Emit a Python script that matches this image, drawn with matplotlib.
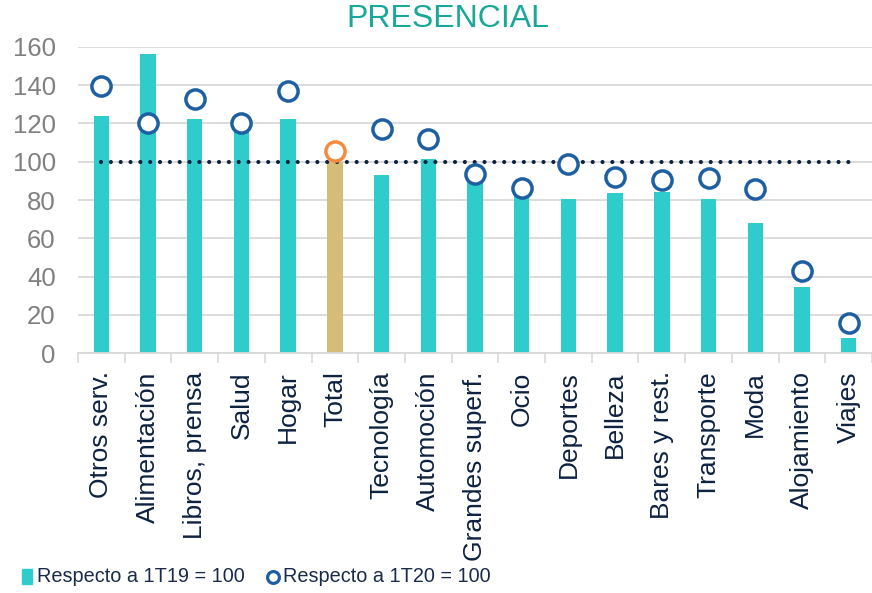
import matplotlib
matplotlib.use("Agg")
import matplotlib.pyplot as plt
from matplotlib.lines import Line2D
from matplotlib.patches import Rectangle
import numpy as np

plt.rcParams['font.family'] = ['Liberation Sans', 'DejaVu Sans']

categories = ["Otros serv.", "Alimentación", "Libros, prensa", "Salud", "Hogar", "Total",
              "Tecnología", "Automoción", "Grandes superf.", "Ocio", "Deportes", "Belleza",
              "Bares y rest.", "Transporte", "Moda", "Alojamiento", "Viajes"]
vs_1t19 = [123.8, 156.2, 122.1, 122.1, 122.1, 100.0, 92.9, 101.2, 94.4, 85.2, 80.3, 83.5,
           84.3, 80.3, 67.8, 34.6, 7.8]
vs_1t20 = [139.7, 120.3, 132.9, 120.3, 137.0, 105.4, 117.0, 112.0, 93.7, 86.3, 98.8, 92.2,
           90.4, 91.3, 85.6, 43.1, 15.7]
reference_level = 100
highlight = "Total"
yticks = [0, 20, 40, 60, 80, 100, 120, 140, 160]
title = "PRESENCIAL"
legend_labels = ["Respecto a 1T19 = 100", "Respecto a 1T20 = 100"]

teal = "#2ecdcc"
tan = "#d6bd77"
blue = "#1d5fa2"
orange = "#f58b3c"
navy = "#0d2240"
grid_c = "#d9d9d9"

W, H = 872, 593
fig = plt.figure(figsize=(W/100, H/100), dpi=100)
ax = fig.add_axes([78/W, 1-353.3/H, (872-78)/W, (353.3-46.7)/H])

x = np.arange(len(categories))
bar_colors = [tan if c == highlight else teal for c in categories]
ax.bar(x, vs_1t19, width=0.33, color=bar_colors, zorder=2)

ax.plot([x[0], x[-1]], [reference_level, reference_level], color=navy, lw=3,
        linestyle=(0, (0.01, 2.35)), dash_capstyle='round', zorder=3)

for xi, v, c in zip(x, vs_1t20, categories):
    ax.plot(xi, v, marker='o', ms=13.8, mfc='white', mec=(orange if c == highlight else blue),
            mew=2.5, linestyle='none', zorder=4)

ax.set_xlim(-0.5, len(categories) - 0.5)
ax.set_ylim(0, 160)
ax.set_yticks(yticks)
ax.tick_params(axis='y', length=0, pad=16, labelsize=18.5, labelcolor="#808080")
ax.set_xticks(x)
ax.set_xticklabels(categories, rotation=90, va='top', ha='center')
ax.tick_params(axis='x', which='major', length=0, pad=13, labelsize=19, labelcolor=navy)
ax.set_xticks(np.arange(-0.5, len(categories), 1.0), minor=True)
ax.tick_params(axis='x', which='minor', length=7, width=1.2, color=grid_c)

ax.grid(axis='y', color=grid_c, lw=1.3, zorder=0)
ax.set_axisbelow(True)
for s in ['top', 'right', 'left']:
    ax.spines[s].set_visible(False)
ax.spines['bottom'].set_color(grid_c)
ax.spines['bottom'].set_linewidth(1.3)

fig.text(448/W, 1-19/H, title, color="#17a89b", fontsize=23, ha='center', va='center')

# legend drawn manually
ly = 1 - 577/H
fig.patches.append(Rectangle((22/W, 1-584/H), 10/W, 15/H, transform=fig.transFigure,
                             color=teal, figure=fig))
fig.text(37/W, ly, legend_labels[0], fontsize=14.3, color="#1a2a4a", ha='left', va='center')
fig.lines.append(Line2D([272.5/W], [ly], marker='o', ms=8.5, mfc='white', mec=blue, mew=2.3,
                        linestyle='none', transform=fig.transFigure, figure=fig))
fig.text(283/W, ly, legend_labels[1], fontsize=14.3, color="#1a2a4a", ha='left', va='center')

fig.savefig("out.png", dpi=100)
